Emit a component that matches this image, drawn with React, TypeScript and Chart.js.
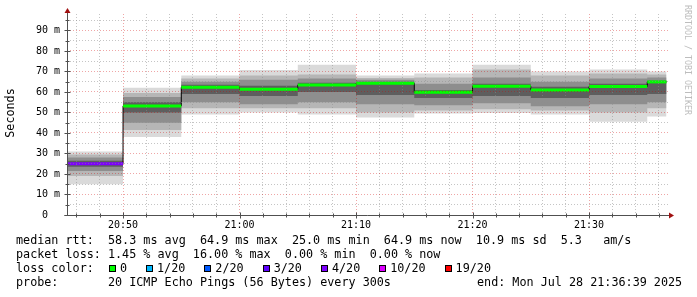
import React, { useEffect, useRef } from "react";
import { Chart, registerables } from "chart.js";

Chart.register(...registerables);

// ---- time axis (minutes since 00:00) ----
const blockStarts = [1245, 1250, 1255, 1260, 1265, 1270, 1275, 1280, 1285, 1290, 1295];
const dataEnd = 1296.65; // 21:36:39
const xMin = 1245.19;
const xMax = 1296.78;
const yMin = 0;
const yMax = 98;

// ---- series (ms) ----
const medianRtt = [25.0, 53.2, 62.3, 61.3, 63.4, 64.2, 59.8, 62.8, 61.0, 62.6, 64.9];
const lossColorPerBlock = ["#7e00ff", "#00ff00", "#00ff00", "#00ff00", "#00ff00", "#00ff00", "#00ff00", "#00ff00", "#00ff00", "#00ff00", "#00ff00"];
const pingMin = [15.0, 38.0, 49.0, 50.0, 49.0, 47.5, 49.5, 49.7, 49.0, 45.5, 48.0];
const ping10 = [19.0, 41.5, 52.0, 52.0, 52.0, 50.0, 51.0, 51.5, 51.0, 50.0, 52.0];
const ping25 = [21.5, 45.0, 55.0, 54.0, 55.0, 54.0, 53.5, 54.5, 53.0, 54.0, 55.0];
const ping40 = [23.5, 50.0, 59.0, 58.0, 60.0, 58.5, 57.0, 58.0, 57.0, 58.5, 59.0];
const ping60 = [26.5, 55.0, 63.5, 63.0, 64.5, 65.0, 61.0, 64.0, 62.5, 64.0, 65.5];
const ping75 = [28.0, 57.5, 65.0, 66.0, 66.5, 66.0, 64.0, 67.0, 65.0, 66.5, 67.0];
const ping90 = [29.5, 59.5, 66.5, 68.0, 68.5, 66.8, 67.0, 71.0, 68.0, 69.0, 68.5];
const pingMax = [31.0, 62.0, 68.0, 70.7, 73.3, 68.0, 69.0, 73.2, 70.0, 71.0, 70.0];

// ---- ticks ----
const yGridValues = [5, 10, 15, 20, 25, 30, 35, 40, 45, 50, 55, 60, 65, 70, 75, 80, 85, 90, 95];
const yLabelValues = [0, 10, 20, 30, 40, 50, 60, 70, 80, 90];
const xGridValues = [1246, 1248, 1250, 1252, 1254, 1256, 1258, 1260, 1262, 1264, 1266, 1268, 1270, 1272, 1274, 1276, 1278, 1280, 1282, 1284, 1286, 1288, 1290, 1292, 1294, 1296];
const xLabelValues = [1250, 1260, 1270, 1280, 1290];

// ---- legend texts ----
const legendLine1 = "median rtt:  58.3 ms avg  64.9 ms max  25.0 ms min  64.9 ms now  10.9 ms sd  5.3   am/s";
const legendLine2 = "packet loss: 1.45 % avg  16.00 % max  0.00 % min  0.00 % now";
const legendLossTitle = "loss color:";
const lossLabels = ["0", "1/20", "2/20", "3/20", "4/20", "10/20", "19/20"];
const lossColors = ["#00ff00", "#00b8ff", "#0059ff", "#5e00ff", "#7e00ff", "#dd00ff", "#ff0000"];
const probeLine = "probe:       20 ICMP Echo Pings (56 Bytes) every 300s";
const endLine = "end: Mon Jul 28 21:36:39 2025";
const yTitle = "Seconds";
const watermark = "RRDTOOL / TOBI OETIKER";

const MONO = '"DejaVu Sans Mono", monospace';

function stepData(vals: number[]) {
  const pts = blockStarts.map((x, i) => ({ x, y: vals[i] }));
  pts.push({ x: dataEnd, y: vals[vals.length - 1] });
  return pts;
}

function segData(vals: number[]) {
  const pts: { x: number; y: number }[] = [];
  blockStarts.forEach((x, i) => {
    const end = i + 1 < blockStarts.length ? blockStarts[i + 1] : dataEnd;
    pts.push({ x, y: vals[i] });
    pts.push({ x: end, y: vals[i] });
  });
  return pts;
}

function timeLabel(v: number) {
  const h = Math.floor(v / 60);
  const m = v % 60;
  return `${h}:${String(m).padStart(2, "0")}`;
}

const decorPlugin = {
  id: "decor",
  afterDraw(chart: any) {
    const ctx: CanvasRenderingContext2D = chart.ctx;
    const xs = chart.scales.x;
    const ys = chart.scales.y;
    const area = chart.chartArea;
    const ax = Math.round(area.left) + 0.5;
    const ay = Math.round(ys.getPixelForValue(0)) + 0.5;
    ctx.save();

    // axes
    ctx.strokeStyle = "#505050";
    ctx.lineWidth = 1;
    ctx.beginPath();
    ctx.moveTo(ax, ay);
    ctx.lineTo(ax, area.top - 2);
    ctx.moveTo(ax - 3, ay);
    ctx.lineTo(area.right + 2, ay);
    ctx.stroke();

    // axis ticks
    ctx.beginPath();
    for (const v of [0, ...yGridValues]) {
      const y = Math.round(ys.getPixelForValue(v)) + 0.5;
      const l = v % 10 === 0 ? 3 : 2;
      ctx.moveTo(ax - l, y);
      ctx.lineTo(ax + l, y);
    }
    for (const v of xGridValues) {
      const x = Math.round(xs.getPixelForValue(v)) + 0.5;
      const l = v % 10 === 0 ? 3 : 2;
      ctx.moveTo(x, ay - l);
      ctx.lineTo(x, ay + l);
    }
    ctx.stroke();

    // arrows
    ctx.fillStyle = "#a01010";
    ctx.beginPath();
    ctx.moveTo(ax - 3, area.top - 1);
    ctx.lineTo(ax + 3, area.top - 1);
    ctx.lineTo(ax, area.top - 6);
    ctx.closePath();
    ctx.fill();
    ctx.beginPath();
    ctx.moveTo(area.right + 1, ay - 3);
    ctx.lineTo(area.right + 1, ay + 3);
    ctx.lineTo(area.right + 6, ay);
    ctx.closePath();
    ctx.fill();

    // y labels
    ctx.fillStyle = "#000";
    ctx.font = `10px ${MONO}`;
    ctx.textBaseline = "middle";
    ctx.textAlign = "left";
    for (const v of yLabelValues) {
      const label = v === 0 ? "0  " : `${v} m`;
      const w = ctx.measureText(label).width;
      ctx.fillText(label, 60 - w, ys.getPixelForValue(v));
    }
    // x labels
    ctx.textAlign = "center";
    for (const v of xLabelValues) {
      ctx.fillText(timeLabel(v), xs.getPixelForValue(v), ay + 10);
    }

    // y title
    ctx.font = `11.75px ${MONO}`;
    ctx.save();
    ctx.translate(11, 113);
    ctx.rotate(-Math.PI / 2);
    ctx.textAlign = "center";
    ctx.fillText(yTitle, 0, 0);
    ctx.restore();

    // watermark
    ctx.save();
    ctx.font = `8.3px ${MONO}`;
    ctx.fillStyle = "#bdbdbd";
    ctx.translate(687, 5);
    ctx.rotate(Math.PI / 2);
    ctx.textAlign = "left";
    ctx.fillText(watermark, 0, 0);
    ctx.restore();

    // legend
    ctx.font = `11.75px ${MONO}`;
    ctx.textAlign = "left";
    ctx.fillStyle = "#000";
    const cw = ctx.measureText("0").width;
    const lx = 16;
    ctx.fillText(legendLine1, lx, 241);
    ctx.fillText(legendLine2, lx, 255);
    ctx.fillText(legendLossTitle, lx, 269);
    let bx = lx + 13 * cw + 1;
    lossLabels.forEach((lab, i) => {
      const b = Math.round(bx);
      ctx.fillStyle = lossColors[i];
      ctx.fillRect(b, 266, 6, 6);
      ctx.strokeStyle = "#000";
      ctx.strokeRect(b + 0.5, 265.5, 6, 6);
      ctx.fillStyle = "#000";
      const tx = bx + 11;
      ctx.fillText(lab, tx, 269);
      bx = tx + lab.length * cw + 19;
    });
    ctx.fillText(probeLine, lx, 283);
    ctx.fillText(endLine, 477, 283);

    ctx.restore();
  },
};

export default function App() {
  const ref = useRef<HTMLCanvasElement | null>(null);

  useEffect(() => {
    document.body.style.margin = "0";
    const canvas = ref.current;
    if (!canvas) return;

    const bands: [number[], number[], string][] = [
      [ping40, ping60, "#5e5e5e"],
      [ping25, ping75, "#8e8e8e"],
      [ping10, ping90, "#b6b6b6"],
      [pingMin, pingMax, "#dadada"],
    ];

    const datasets: any[] = [
      {
        data: segData(medianRtt),
        borderColor: "#00ff00",
        borderWidth: 3,
        borderCapStyle: "butt",
        pointRadius: 0,
        fill: false,
        clip: 0,
        segment: {
          borderColor: (c: any) =>
            c.p0DataIndex % 2 === 0 ? lossColorPerBlock[c.p0DataIndex / 2] : "rgba(0,0,0,0)",
        },
      },
      {
        data: stepData(medianRtt),
        stepped: true,
        borderColor: "#000000",
        borderWidth: 1,
        pointRadius: 0,
        fill: false,
        clip: 0,
      },
    ];
    bands.forEach(([lo, hi, col]) => {
      datasets.push({
        data: stepData(lo),
        stepped: true,
        borderColor: "rgba(0,0,0,0)",
        borderWidth: 0,
        pointRadius: 0,
        fill: false,
        clip: 0,
      });
      datasets.push({
        data: stepData(hi),
        stepped: true,
        borderColor: "rgba(0,0,0,0)",
        borderWidth: 0,
        pointRadius: 0,
        backgroundColor: col,
        fill: "-1",
        clip: 0,
      });
    });

    const minorCol = "rgba(140,140,140,0.5)";
    const majorCol = "rgba(210,0,0,0.35)";

    const chart = new Chart(canvas, {
      type: "line",
      data: { datasets },
      options: {
        animation: false,
        responsive: false,
        events: [],
        layout: { padding: { left: 67, right: 29, top: 14, bottom: 82 } },
        plugins: { legend: { display: false }, tooltip: { enabled: false } },
        scales: {
          x: {
            type: "linear",
            min: xMin,
            max: xMax,
            afterBuildTicks: (s: any) => {
              s.ticks = xGridValues.map((v) => ({ value: v }));
            },
            afterFit: (s: any) => {
              s.height = 0;
            },
            ticks: { display: false },
            grid: {
              drawTicks: false,
              z: 1,
              lineWidth: 1,
              color: (c: any) => (c.tick && c.tick.value % 10 === 0 ? majorCol : minorCol),
            },
            border: { display: false, dash: [1, 2] },
          },
          y: {
            type: "linear",
            min: yMin,
            max: yMax,
            afterBuildTicks: (s: any) => {
              s.ticks = yGridValues.map((v) => ({ value: v }));
            },
            afterFit: (s: any) => {
              s.width = 0;
            },
            ticks: { display: false },
            grid: {
              drawTicks: false,
              z: 1,
              lineWidth: 1,
              color: (c: any) => (c.tick && c.tick.value % 10 === 0 ? majorCol : minorCol),
            },
            border: { display: false, dash: [1, 2] },
          },
        },
      },
      plugins: [decorPlugin],
    } as any);

    return () => chart.destroy();
  }, []);

  return (
    <div style={{ width: 697, height: 297, background: "#fff" }}>
      <canvas ref={ref} width={697} height={297} style={{ display: "block" }} />
    </div>
  );
}
